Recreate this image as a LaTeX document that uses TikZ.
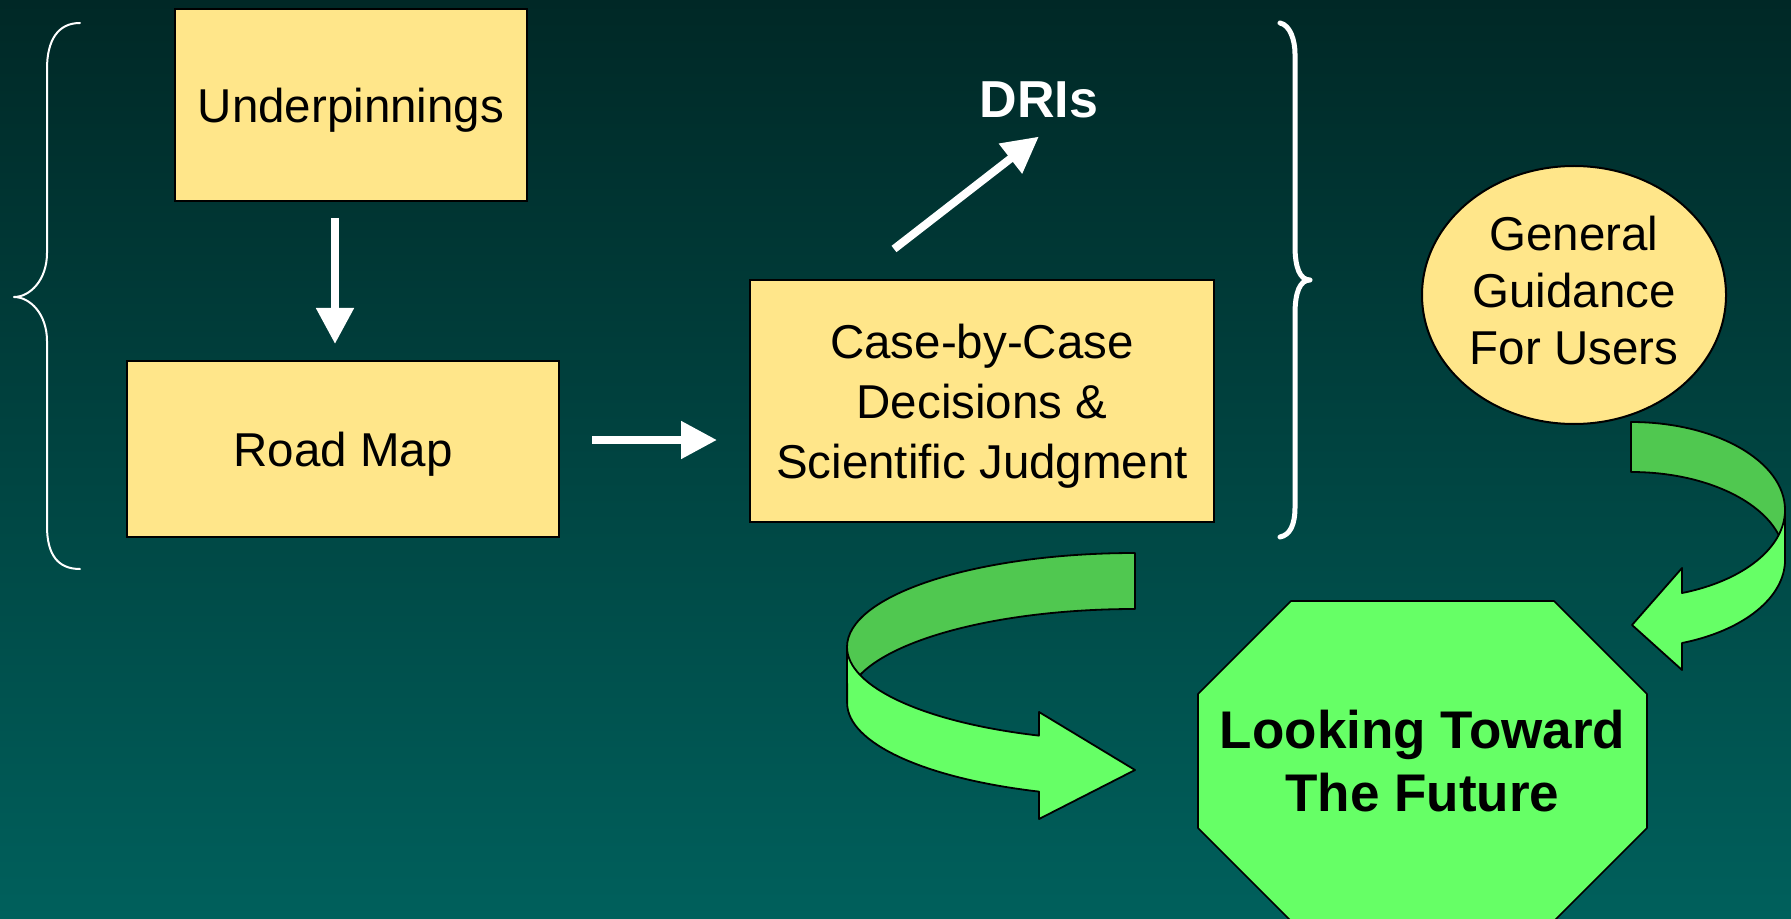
\documentclass[tikz,border=0pt]{standalone}
\usepackage{fontspec}
\setmainfont{Liberation Sans}
\usetikzlibrary{arrows.meta, shapes.geometric}
\definecolor{bgtop}{RGB}{0,40,38}
\definecolor{bgbottom}{RGB}{0,96,92}
\definecolor{boxyellow}{RGB}{255,230,138}
\definecolor{frontgreen}{RGB}{102,255,102}
\definecolor{backgreen}{RGB}{80,200,80}

\begin{document}
\begin{tikzpicture}[x=0.5pt, y=-0.5pt,
	yellowbox/.style={draw=black, line width=1pt, fill=boxyellow, inner sep=0pt, text depth=0pt, align=center, font=\fontsize{23.75}{30}\selectfont},
	wharrow/.style={draw=white, line width=4pt, -{Triangle[length=18pt, width=18pt]}},
	backband/.style={draw=black, line width=0.9pt, fill=backgreen, line join=round},
	frontband/.style={draw=black, line width=0.9pt, fill=frontgreen, line join=round},
	bracket/.style={draw=white, line join=round, line cap=round}]

%---------BACKGROUND-----------%
\useasboundingbox (0,0) rectangle (1791,919);
\shade[top color=bgtop, bottom color=bgbottom] (0,0) rectangle (1791,919);

%---------BOXES-----------%
\node [yellowbox, minimum width=176pt, minimum height=96pt] (underp) at (351,105) {Underpinnings};
\node [yellowbox, minimum width=216pt, minimum height=88pt] (road) at (343,449) {Road Map};
\node [yellowbox, minimum width=232pt, minimum height=121pt] (case) at (982,401) {Case-by-Case\\Decisions \&\\Scientific Judgment};
\node [yellowbox, ellipse, text depth=4.6pt, minimum width=152pt, minimum height=129pt, font=\fontsize{23.75}{28.5}\selectfont] (guide) at (1574,295) {General\\Guidance\\For Users};
\node [text=white, inner sep=2pt, font=\fontsize{26}{30}\selectfont\bfseries] (dris) at (1039,100) {DRIs};

%---------OCTAGON-----------%
\draw[draw=black, line width=0.8pt, fill=frontgreen, line join=round]
	(1291,601) -- (1554,601) -- (1647,694) -- (1647,828) -- (1554,921) -- (1291,921) -- (1198,828) -- (1198,694) -- cycle;
\node [align=center, inner sep=0pt, font=\fontsize{26.5}{31.5}\selectfont\bfseries] (future) at (1422.5,761) {Looking Toward\\The Future};

%---------WHITE ARROWS-----------%
\draw[wharrow, shorten <=8pt, shorten >=8pt] (underp.south -| 335,0) -- (road.north -| 335,0);
\draw[wharrow, shorten <=16pt, shorten >=16pt] ([yshift=4.5pt]road.east) -- ([yshift=4.5pt]road.east -| case.west);
\coordinate (dristail) at (894,249);
\draw[wharrow, shorten >=11.5pt] (dristail) -- ([xshift=9pt]dris.south);

%---------BRACES-----------%
\draw[bracket, line width=1pt] (80,23) .. controls (58,23) and (47,40) .. (47,69) -- (47,253)
	.. controls (47,280) and (30,297) .. (14,297) .. controls (30,297) and (47,314) .. (47,341)
	-- (47,526) .. controls (47,555) and (58,569) .. (80,569);
\draw[bracket, line width=2.5pt] (1280,23) .. controls (1290,25) and (1295,40) .. (1295,54) -- (1295,246)
	.. controls (1295,268) and (1300,280) .. (1310,280) .. controls (1300,280) and (1295,292) .. (1295,314)
	-- (1295,507) .. controls (1295,525) and (1290,535) .. (1280,537);

%---------CURVED ARROWS-----------%
\draw[backband] (1135,553) arc[start angle=270, end angle=180, x radius=288, y radius=94]
	-- (847,703) arc[start angle=180, end angle=270, x radius=288, y radius=94] -- cycle;
\draw[frontband] (847,647) arc[start angle=180, end angle=109.5, x radius=288, y radius=94]
	-- (1039,712) -- (1135,770) -- (1039,819) -- (1039,791.6)
	arc[start angle=109.5, end angle=180, x radius=288, y radius=94] -- cycle;

\draw[backband] (1631,422) arc[start angle=270, end angle=360, x radius=154, y radius=88]
	-- (1785,560) arc[start angle=360, end angle=270, x radius=154, y radius=88] -- cycle;
\draw[frontband] (1785,510) arc[start angle=0, end angle=70.66, x radius=154, y radius=88]
	-- (1682,568) -- (1632,625) -- (1682,670) -- (1682,643)
	arc[start angle=70.66, end angle=0, x radius=154, y radius=88] -- cycle;

\end{tikzpicture}
\end{document}
